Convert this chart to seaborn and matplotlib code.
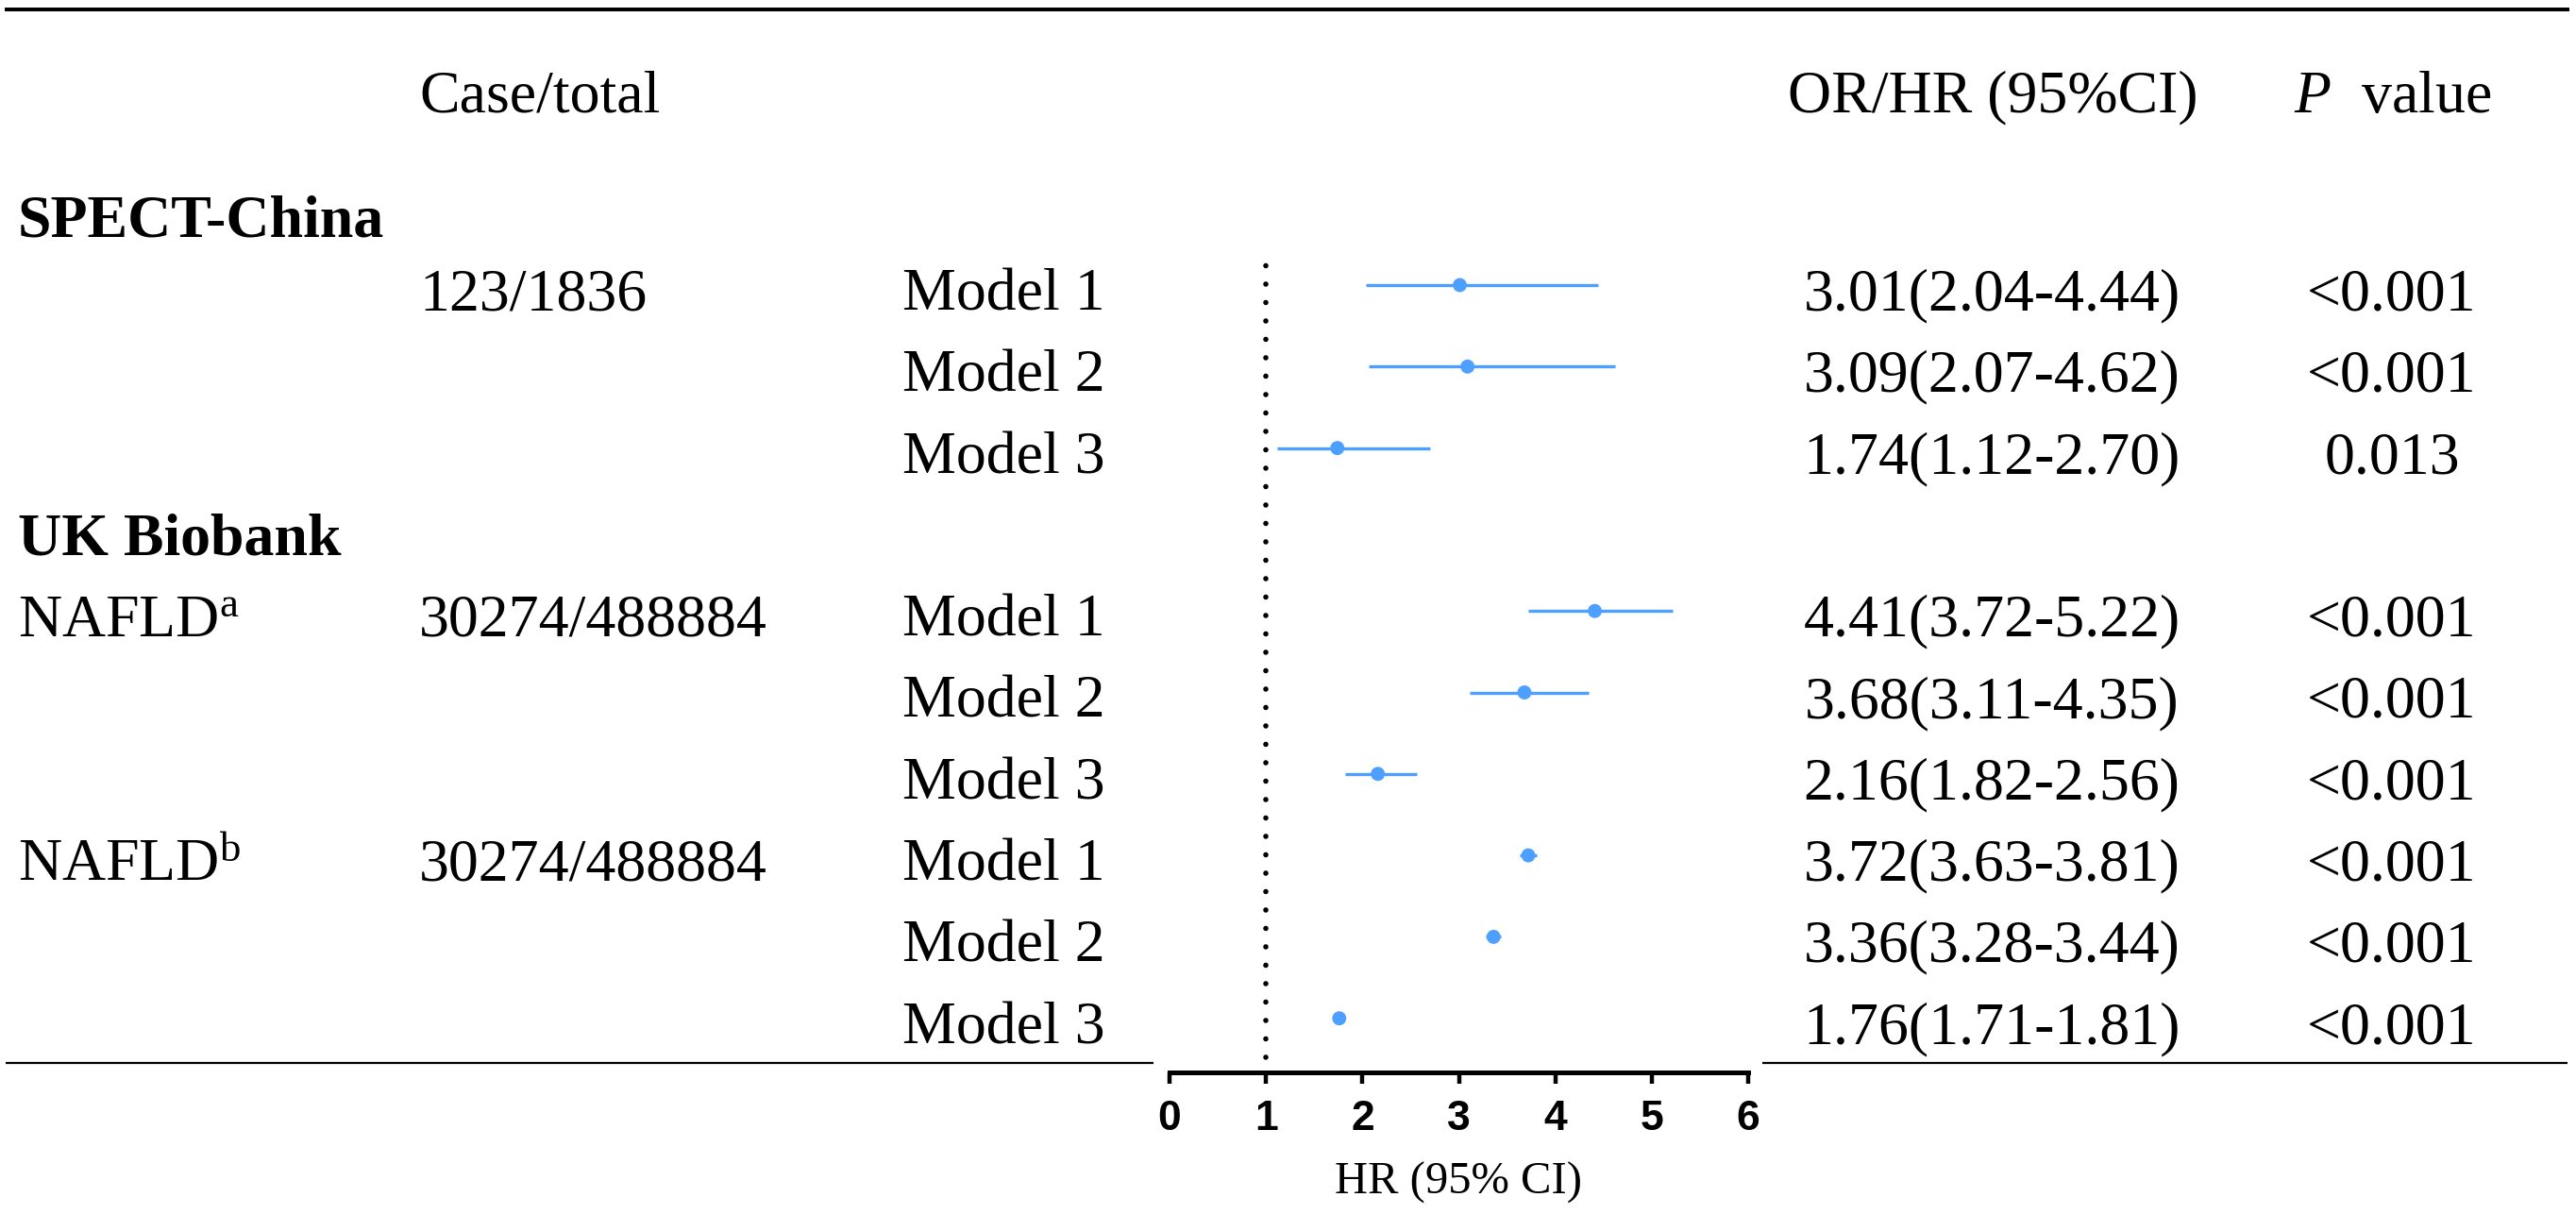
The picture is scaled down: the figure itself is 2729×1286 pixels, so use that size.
import matplotlib
matplotlib.use("Agg")
import matplotlib.pyplot as plt
import seaborn as sns
import pandas as pd

# Forest plot data
rows = [0, 1, 2, 4, 5, 6, 7, 8, 9]
models = ["Model 1", "Model 2", "Model 3"] * 3
est = [3.01, 3.09, 1.74, 4.41, 3.68, 2.16, 3.72, 3.36, 1.76]
lo = [2.04, 2.07, 1.12, 3.72, 3.11, 1.82, 3.63, 3.28, 1.71]
hi = [4.44, 4.62, 2.70, 5.22, 4.35, 2.56, 3.81, 3.44, 1.81]
p_values = ["<0.001", "<0.001", "0.013", "<0.001", "<0.001", "<0.001",
            "<0.001", "<0.001", "<0.001"]

cohorts = ["SPECT-China", "UK Biobank"]
cohort_rows = [-0.9, 3]
subgroups = ["", r"NAFLD$^{\mathrm{a}}$", r"NAFLD$^{\mathrm{b}}$"]
case_total = ["123/1836", "30274/488884", "30274/488884"]
subgroup_rows = [0, 4, 7]
x_ticks = [0, 1, 2, 3, 4, 5, 6]

df = pd.DataFrame({"row": rows, "model": models, "est": est, "lo": lo, "hi": hi, "p": p_values})
df["ci_text"] = [f"{e:.2f}({l:.2f}-{h:.2f})" for e, l, h in zip(est, lo, hi)]

sns.set_theme(style="white")
plt.rcParams["font.family"] = ["Liberation Serif", "DejaVu Serif"]
plt.rcParams["mathtext.fontset"] = "custom"
plt.rcParams["mathtext.rm"] = "Liberation Serif"
plt.rcParams["mathtext.it"] = "Liberation Serif:italic"
plt.rcParams["mathtext.bf"] = "Liberation Serif:bold"
plt.rcParams["text.color"] = "black"
plt.rcParams["axes.labelcolor"] = "black"
plt.rcParams["xtick.color"] = "black"

BLUE = "#4DA0FF"
W, H = 2729, 1286
ROW0, ROW_H = 302, 86.3  # pixel y of first data row, row spacing


def px_to_row(y):
    return (y - ROW0) / ROW_H


fig = plt.figure(figsize=(W / 100, H / 100), dpi=100)

# table layer covering the whole figure: x in pixels, y in row units
tab = fig.add_axes([0, 0, 1, 1])
tab.set_xlim(0, W)
tab.set_ylim(px_to_row(H), px_to_row(0))
tab.axis("off")

# forest axes
ax_top, ax_bot = 264, 1136
ax = fig.add_axes([1239 / W, 1 - ax_bot / H, 613 / W, (ax_bot - ax_top) / H])
ax.patch.set_visible(False)

ax.hlines(df["row"], df["lo"], df["hi"], color=BLUE, lw=2.4, zorder=2)
sns.scatterplot(data=df, x="est", y="row", ax=ax, color=BLUE, s=115,
                edgecolor="none", zorder=3, legend=False)
ax.axvline(1, ymin=0.018, ymax=1, color="black", lw=4,
           linestyle=(0, (0.01, 3.5)), dash_capstyle="round", zorder=1)

ax.set_xlim(0, 6)
ax.set_ylim(px_to_row(ax_bot), px_to_row(ax_top))
ax.set_xticks(x_ticks)
ax.set_xticklabels([str(t) for t in x_ticks], fontfamily="Liberation Sans",
                   fontweight="bold", fontsize=32)
ax.tick_params(axis="x", bottom=True, length=8.6, width=3.2, pad=12, color="black")
ax.set_yticks([])
ax.set_ylabel("")
ax.set_xlabel("HR (95% CI)", fontsize=35, labelpad=18)
for side in ["top", "right", "left"]:
    ax.spines[side].set_visible(False)
ax.spines["bottom"].set_linewidth(3.6)
ax.spines["bottom"].set_color("black")

# table rules
tab.hlines(px_to_row(10), 5, 2722, color="black", lw=2.9)
tab.hlines(px_to_row(1126), 6, 1222, color="black", lw=1.6)
tab.hlines(px_to_row(1126), 1867, 2720, color="black", lw=1.6)

FS = 46
BASE = 0.307  # baseline offset from row centre, in rows

# headers
tab.text(444, -2.43 + BASE, "Case/total", fontsize=FS, va="baseline")
tab.text(2111, -2.43 + BASE, "OR/HR (95%CI)", fontsize=FS, va="baseline", ha="center")
tab.text(2535, -2.43 + BASE, r"$\mathit{P}$  value", fontsize=FS, va="baseline", ha="center")

for name, r in zip(cohorts, cohort_rows):
    tab.text(19, r + BASE, name, fontsize=FS, fontweight="bold", va="baseline")

for name, ct, r in zip(subgroups, case_total, subgroup_rows):
    if name:
        tab.text(19, r + BASE, name, fontsize=FS, va="baseline")
    tab.text(444, r + BASE, ct, fontsize=FS, va="baseline")

for _, rec in df.iterrows():
    tab.text(956, rec["row"] + BASE, rec["model"], fontsize=FS, va="baseline")
    tab.text(2110, rec["row"] + BASE, rec["ci_text"], fontsize=FS, va="baseline", ha="center")
    tab.text(2534, rec["row"] + BASE, rec["p"], fontsize=FS, va="baseline", ha="center")

fig.savefig("out.png", dpi=100)
plt.close(fig)
